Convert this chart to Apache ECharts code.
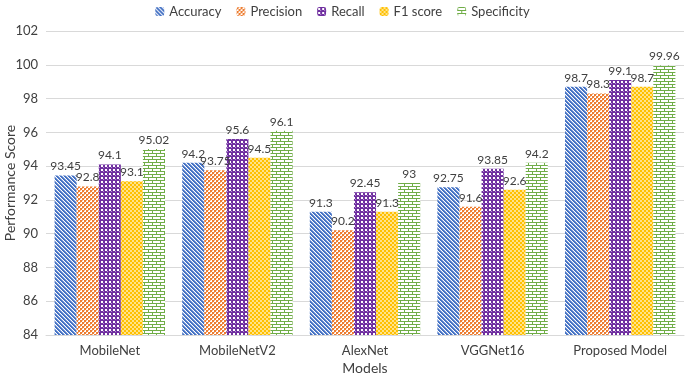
<!DOCTYPE html>
<html>
<head>
<meta charset="utf-8">
<script src="https://cdn.jsdelivr.net/npm/echarts@6/dist/echarts.min.js"></script>
<style>
  html, body { margin: 0; padding: 0; background: #fff; }
  #chart { width: 685px; height: 376px; }
</style>
</head>
<body>
<div id="chart"></div>
<script>
  'use strict'
  var models = ['MobileNet', 'MobileNetV2', 'AlexNet', 'VGGNet16', 'Proposed Model'];
  var seriesNames = ['Accuracy', 'Precision', 'Recall', 'F1 score', 'Specificity'];
  var accuracy = [93.45, 94.2, 91.3, 92.75, 98.7];
  var precision = [92.8, 93.75, 90.2, 91.6, 98.3];
  var recall = [94.1, 95.6, 92.45, 93.85, 99.1];
  var f1score = [93.1, 94.5, 91.3, 92.6, 98.7];
  var specificity = [95.02, 96.1, 93, 94.2, 99.96];
  var yTicks = { min: 84, max: 102, step: 2 };

  /* small tiled fills, drawn once */
  function tile(w, h, draw) {
    var c = document.createElement('canvas');
    c.width = w; c.height = h;
    var g = c.getContext('2d');
    g.fillStyle = '#fff';
    g.fillRect(0, 0, w, h);
    draw(g);
    return { image: c, repeat: 'repeat' };
  }
  var fillAcc = tile(4, 4, function (g) {
    g.fillStyle = '#4472c4';
    for (var i = 0; i < 4; i++) {
      g.fillRect(i, i, 1, 1);
      g.fillRect((i + 1) % 4, i, 1, 1);
    }
    g.fillStyle = '#8fa9dc';
    for (var j = 0; j < 4; j++) g.fillRect((j + 2) % 4, j, 1, 1);
  });
  var fillPre = tile(4, 4, function (g) {
    g.fillStyle = '#ed7d31';
    g.fillRect(0, 0, 2, 2);
    g.fillRect(2, 2, 2, 2);
    g.fillStyle = '#f6b98f';
    g.fillRect(2, 0, 1, 1);
    g.fillRect(0, 2, 1, 1);
  });
  var fillRec = tile(4, 4, function (g) {
    g.fillStyle = '#7030a0';
    g.fillRect(0, 0, 4, 4);
    g.fillStyle = '#fff';
    g.fillRect(1, 1, 2, 2);
    g.fillStyle = '#b48ed0';
    g.fillRect(3, 3, 1, 1);
  });
  var fillF1 = tile(4, 4, function (g) {
    g.fillStyle = '#ffc000';
    g.fillRect(0, 0, 4, 4);
    g.fillStyle = '#ffe38a';
    g.fillRect(0, 0, 2, 2);
    g.fillRect(2, 2, 2, 2);
  });
  var fillSpe = tile(8, 6, function (g) {
    g.fillStyle = '#70ad47';
    g.fillRect(0, 0, 8, 1);
    g.fillRect(0, 3, 8, 1);
    g.fillRect(0, 1, 1, 2);
    g.fillRect(4, 4, 1, 2);
  });
  var fills = [fillAcc, fillPre, fillRec, fillF1, fillSpe];
  var values = [accuracy, precision, recall, f1score, specificity];

  var font = 'Lato, "Noto Sans", sans-serif';

  var chartdata = seriesNames.map(function (name, k) {
    return {
      name: name,
      type: 'bar',
      data: values[k],
      barGap: '0%',
      barCategoryGap: '13.5%',
      itemStyle: { color: fills[k] },
      label: {
        show: true,
        position: 'top',
        distance: 3,
        color: '#404040',
        fontSize: 12,
        fontFamily: font
      }
    };
  });

  var chart = echarts.init(document.getElementById('chart'));
  var option = {
    animation: false,
    backgroundColor: '#fff',
    textStyle: { fontFamily: font },
    legend: {
      top: 0,
      left: 'center',
      data: seriesNames,
      itemWidth: 9,
      itemHeight: 9,
      itemGap: 15,
      textStyle: { color: '#404040', fontSize: 13, fontFamily: font }
    },
    grid: {
      top: 31,
      right: 1,
      bottom: 41,
      left: 46,
      outerBoundsMode: 'none'
    },
    xAxis: {
      type: 'category',
      data: models,
      name: 'Models',
      nameLocation: 'middle',
      nameGap: 26,
      nameMoveOverlap: false,
      nameTextStyle: { color: '#404040', fontSize: 14, fontFamily: font },
      axisTick: { show: false },
      axisLine: { lineStyle: { color: '#d9d9d9' } },
      axisLabel: { color: '#404040', fontSize: 13, margin: 9, fontFamily: font }
    },
    yAxis: {
      type: 'value',
      min: yTicks.min,
      max: yTicks.max,
      interval: yTicks.step,
      name: 'Performance Score',
      nameLocation: 'middle',
      nameGap: 29,
      nameMoveOverlap: false,
      nameTextStyle: { color: '#404040', fontSize: 14, fontFamily: font },
      axisLine: { show: false },
      axisTick: { show: false },
      splitLine: { lineStyle: { color: '#d9d9d9' } },
      axisLabel: { color: '#404040', fontSize: 13, margin: 8, fontFamily: font }
    },
    series: chartdata
  };
  chart.setOption(option);
</script>
</body>
</html>
